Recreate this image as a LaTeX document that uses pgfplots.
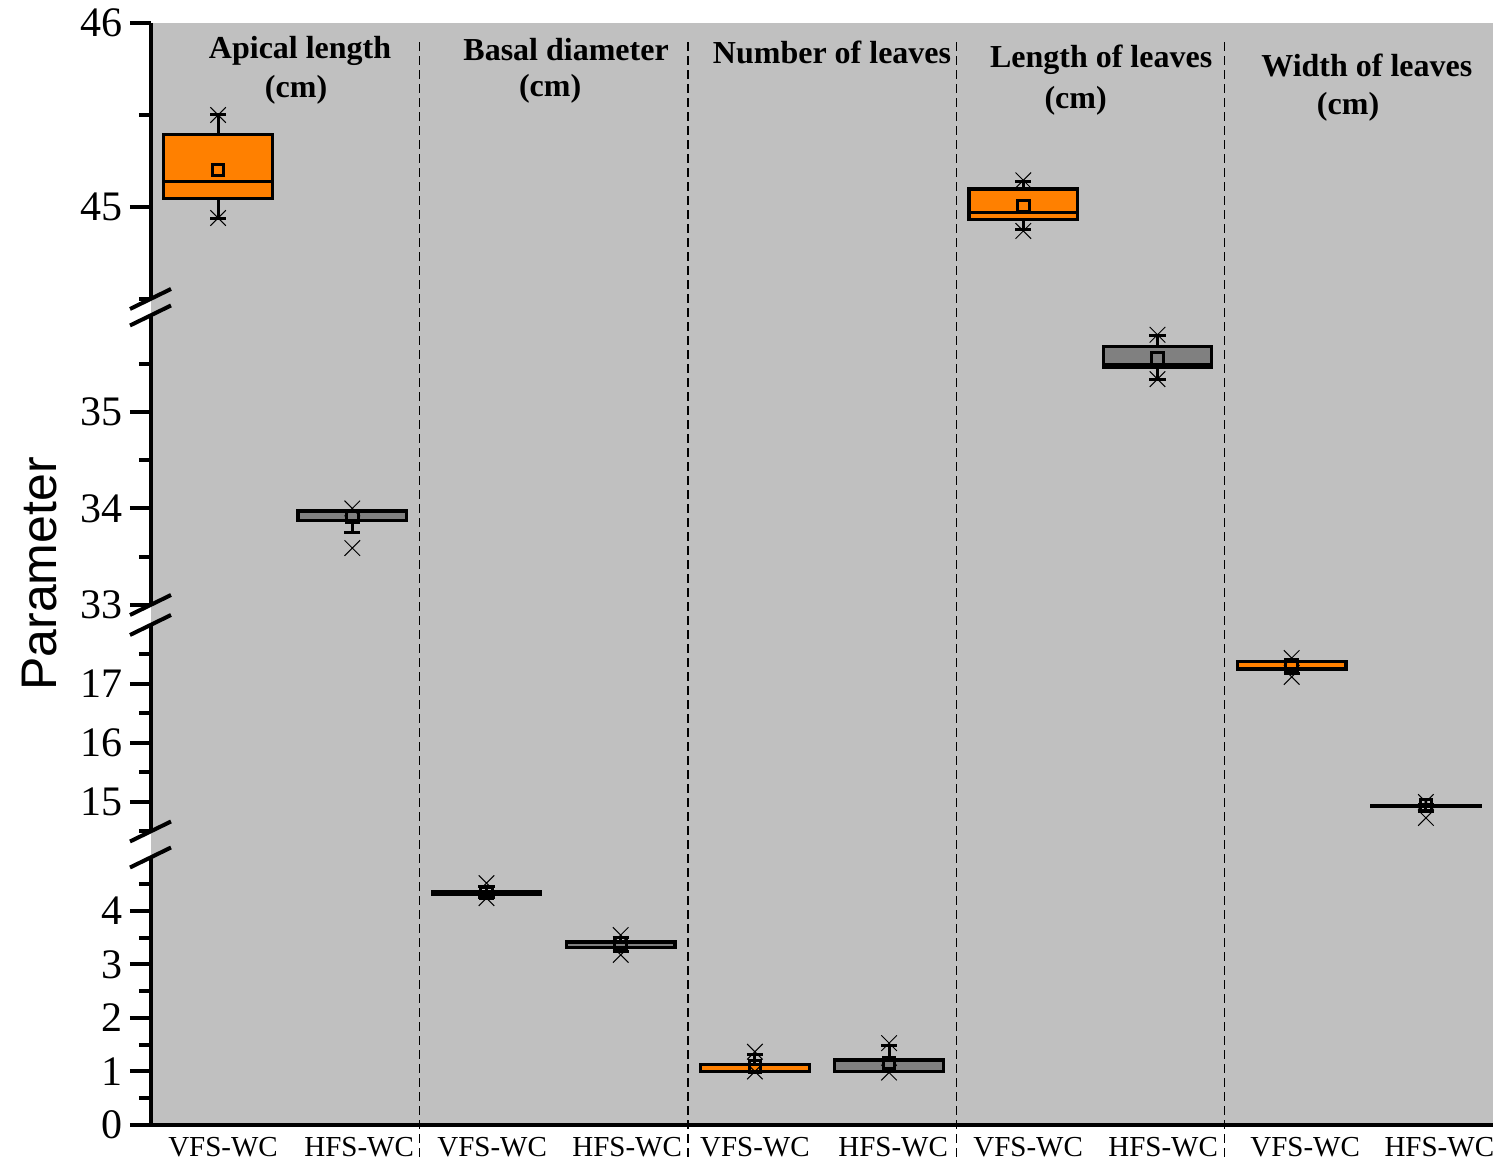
\documentclass[border=0pt]{standalone}
\usepackage{pgfplots}
\pgfplotsset{compat=1.18}
\usepgfplotslibrary{statistics}
\usepackage{fontspec}
\setmainfont{Liberation Serif}
\newfontfamily\arial{Liberation Sans}
\definecolor{vfs}{RGB}{255,128,0}
\definecolor{hfs}{RGB}{128,128,128}
\definecolor{bg}{RGB}{192,192,192}
\pgfplotsset{
  seg/.style={
    scale only axis, width=671pt, xmin=0.5, xmax=10.5,
    axis y line*=left,
    clip=false, anchor=south west,
    tick align=outside, major tick length=10.5pt, minor tick length=6pt,
    tick style={black, line width=2pt},
    axis line style={line width=2pt},
    /pgf/number format/assume math mode=true,
    yticklabel style={font=\fontsize{21}{22}\selectfont},
  },
  bx/.style={boxplot/draw direction=y, boxplot/box extend=0.81, boxplot/whisker extend=0.12,
    boxplot/every average/.style={/tikz/mark=square, /tikz/mark size=2.9pt, /tikz/line width=0.5pt, /tikz/draw=black, /tikz/solid},
    draw=black, line width=1.5pt, mark=x, mark size=5.5pt,
    mark options={line width=0.5pt, solid, black},
    boxplot/every box/.style={fill=#1, line width=1.6pt}},
}
\newcommand{\brk}[1]{\draw[line width=2pt] (rel axis cs:0,#1) ++(-10.5pt,-5pt) -- ++(20.5pt,10pt);}
\newcommand{\sep}[1]{\draw[line width=0.7pt, dash pattern=on 4.5pt off 2.5pt] (axis cs:#1,0) ++(0pt,-16pt) -- ++(0pt,558.5pt);}
\begin{document}
\begin{tikzpicture}
\path (-75.5pt,-18pt) rectangle (672.5pt,562.5pt);
\fill[bg] (0,0) rectangle (671pt,551pt);
% top segment
\begin{axis}[seg, axis x line=none, at={(0,413pt)}, height=138pt, ymin=44.5, ymax=46,
  ytick={45,46}, minor ytick={44.5,45.5}]
\addplot[bx=vfs, boxplot prepared={draw position=1, lower whisker=44.94, lower quartile=45.047, median=45.136, upper quartile=45.393, upper whisker=45.5, average=45.201}] coordinates {(1,45.5) (1,44.94)};
\addplot[bx=vfs, boxplot prepared={draw position=7, lower whisker=44.875, lower quartile=44.933, median=44.97, upper quartile=45.098, upper whisker=45.14, average=45.005}] coordinates {(7,45.145) (7,44.87)};
\node[font=\fontsize{16}{19}\selectfont\bfseries] at (axis cs:1.611,45.850) {Apical length};
\node[font=\fontsize{16}{19}\selectfont\bfseries] at (axis cs:1.581,45.635) {(cm)};
\node[font=\fontsize{16}{19}\selectfont\bfseries] at (axis cs:3.593,45.858) {Basal diameter};
\node[font=\fontsize{16}{19}\selectfont\bfseries] at (axis cs:3.474,45.640) {(cm)};
\node[font=\fontsize{16}{19}\selectfont\bfseries] at (axis cs:5.575,45.838) {Number of leaves};
\node[font=\fontsize{16}{19}\selectfont\bfseries] at (axis cs:7.58,45.80) {Length of leaves};
\node[font=\fontsize{16}{19}\selectfont\bfseries] at (axis cs:7.39,45.575) {(cm)};
\node[font=\fontsize{16}{19}\selectfont\bfseries] at (axis cs:9.56,45.767) {Width of leaves};
\node[font=\fontsize{16}{19}\selectfont\bfseries] at (axis cs:9.42,45.542) {(cm)};
\brk{0}
\end{axis}
% 33-36 segment
\begin{axis}[seg, axis x line=none, at={(0,260pt)}, height=144.75pt, ymin=33, ymax=36,
  ytick={33,34,35}, minor ytick={33.5,34.5,35.5}]
\addplot[bx=hfs, boxplot prepared={draw position=2, lower whisker=33.746, lower quartile=33.877, median=33.97, upper quartile=33.978, upper whisker=33.978, average=33.91}] coordinates {(2,34.0) (2,33.59)};
\addplot[bx=hfs, boxplot prepared={draw position=8, lower whisker=35.34, lower quartile=35.459, median=35.487, upper quartile=35.678, upper whisker=35.79, average=35.556}] coordinates {(8,35.80) (8,35.34)};
\brk{0}\brk{1}
\end{axis}
% 14.5-18 segment
\begin{axis}[seg, axis x line=none, at={(0,146.75pt)}, height=103.25pt, ymin=14.5, ymax=18,
  ytick={15,16,17}, minor ytick={14.5,15.5,16.5,17.5}]
\addplot[bx=vfs, boxplot prepared={draw position=9, lower whisker=17.18, lower quartile=17.25, median=17.26, upper quartile=17.38, upper whisker=17.38, average=17.32}] coordinates {(9,17.44) (9,17.12)};
\addplot[bx=hfs, boxplot prepared={draw position=10, lower whisker=14.84, lower quartile=14.925, median=14.93, upper quartile=14.94, upper whisker=14.96, average=14.95}] coordinates {(10,15.0) (10,14.73)};
\brk{0}\brk{1}
\end{axis}
% bottom segment
\begin{axis}[seg, at={(0,0)}, height=133.75pt, ymin=0, ymax=5,
  axis x line*=bottom,
  ytick={0,1,2,3,4}, minor ytick={0.5,1.5,2.5,3.5,4.5},
  xtick={1.037,2.051,3.042,4.048,5.0,6.03,7.036,8.042,9.1,10.1},
  xticklabels={VFS-WC,HFS-WC,VFS-WC,HFS-WC,VFS-WC,HFS-WC,VFS-WC,HFS-WC,VFS-WC,HFS-WC},
  x tick style={draw=none},
  xticklabel style={font=\fontsize{14.5}{16}\selectfont, inner sep=0pt, yshift=4.5pt}]
\addplot[bx=vfs, boxplot prepared={draw position=3, lower whisker=4.26, lower quartile=4.31, median=4.33, upper quartile=4.36, upper whisker=4.467, average=4.34}] coordinates {(3,4.52) (3,4.24)};
\addplot[bx=hfs, boxplot prepared={draw position=4, lower whisker=3.25, lower quartile=3.32, median=3.42, upper quartile=3.43, upper whisker=3.50, average=3.40}] coordinates {(4,3.55) (4,3.18)};
\addplot[bx=vfs, boxplot prepared={draw position=5, lower whisker=1.0, lower quartile=1.0, median=1.0, upper quartile=1.135, upper whisker=1.32, average=1.09}] coordinates {(5,1.37) (5,1.0)};
\addplot[bx=hfs, boxplot prepared={draw position=6, lower whisker=1.0, lower quartile=1.0, median=1.0, upper quartile=1.215, upper whisker=1.495, average=1.16}] coordinates {(6,1.53) (6,0.98)};
\sep{2.5}\sep{4.5}\sep{6.5}\sep{8.5}
\brk{1}
\end{axis}
\node[rotate=90, font=\arial\fontsize{25}{30}\selectfont] at (-55.5pt,275.5pt) {Parameter};
\end{tikzpicture}
\end{document}
